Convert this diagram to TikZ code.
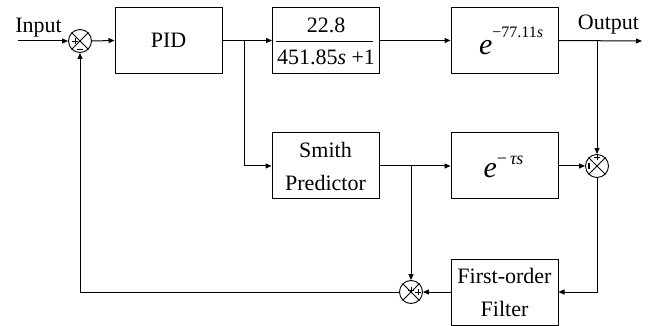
\documentclass[tikz,border=0pt]{standalone}
\usepackage{fontspec}
\setmainfont{Liberation Serif}
\usetikzlibrary{arrows.meta}
\tikzset{
  blk/.style={draw=black, line width=1pt, rectangle, minimum width=107pt, minimum height=66pt, inner sep=0pt, align=center, font=\fontsize{22}{33}\selectfont},
  sumj/.style={draw=black, line width=0.9pt, circle, minimum size=23pt, inner sep=0pt},
  lbl/.style={inner sep=0pt, anchor=base, font=\fontsize{22}{26}\selectfont},
  arr/.style={line width=1pt, -{Triangle[length=6pt,width=5pt]}},
  ln/.style={line width=1pt},
  sgn/.style={line width=0.6pt},
}
\begin{document}
\begin{tikzpicture}[x=1pt,y=-1pt]
\useasboundingbox (0,0) rectangle (654,326);
% blocks
\node[blk] (pid) at (168.5,40.5) {PID};
\node[blk] (tf) at (326,40.5) {};
\node[blk] (d1) at (504.5,40.5) {};
\node[blk] (smith) at (325.5,166) {Smith\\Predictor};
\node[blk] (d2) at (504.5,166) {};
\node[blk] (filt) at (504.5,292) {First-order\\Filter};
% transfer function text
\node[lbl] (num) at (326,33) {22.8};
\node[lbl] (den) at (326,65) {451.85\textit{s} +1};
\draw[line width=1pt] (276,41.5) -- (373,41.5);
% delays
\node[inner sep=0pt, anchor=base] (e1) at (511,55) {\fontsize{30}{30}\selectfont\textit{e}\raisebox{17pt}{\fontsize{16}{16}\selectfont −77.11\textit{s}}};
\node[inner sep=0pt, anchor=base] (e2) at (503.5,178) {\fontsize{30}{30}\selectfont\textit{e}\raisebox{13pt}{\fontsize{18}{18}\selectfont −\,\textit{τs}}};
% summing junctions
\node[sumj] (s1) at (80,41) {};
\node[sumj] (s2) at (597,166) {};
\node[sumj] (s3) at (411,292) {};
\foreach \s in {s1,s2,s3}{
  \draw[line width=0.8pt] (\s.north east) -- (\s.south west);
  \draw[line width=0.8pt] (\s.north west) -- (\s.south east);
}
% signs
\draw[sgn] (72,41) -- (78,41) (75,38) -- (75,44);
\draw[line width=1.4pt] (77,49.5) -- (83,49.5);
\draw[sgn] (594,157) -- (600,157) (597,154) -- (597,160);
\draw[line width=1.2pt] (589,163) -- (589,169);
\draw[sgn] (408,290) -- (414,290) (411,287) -- (411,293);
\draw[sgn] (415,292) -- (421,292) (418,289) -- (418,295);
% labels
\node[lbl] (inp) at (38.5,33) {Input};
\node[lbl] (outp) at (608.5,30) {Output};
% coordinates
\coordinate (in0) at (18,41);
\coordinate (b1) at (244,41);
\coordinate (b2) at (597,41);
\coordinate (out1) at (642,41);
\coordinate (b3) at (411,166);
% connectors
\draw[arr] (in0) -- (s1.west);
\draw[arr] (s1.east) -- (pid.west);
\draw[arr] (pid.east) -- (tf.west);
\draw[arr] (tf.east) -- (d1.west);
\draw[arr] (d1.east) -- (out1);
\draw[arr] (b2) -- (s2.north);
\draw[arr] (b1) |- (smith.west);
\draw[arr] (smith.east) -- (d2.west);
\draw[arr] (d2.east) -- (s2.west);
\draw[arr] (s2.south) |- (filt.east);
\draw[arr] (filt.west) -- (s3.east);
\draw[arr] (b3) -- (s3.north);
\draw[arr] (s3.west) -| (s1.south);
\end{tikzpicture}
\end{document}
